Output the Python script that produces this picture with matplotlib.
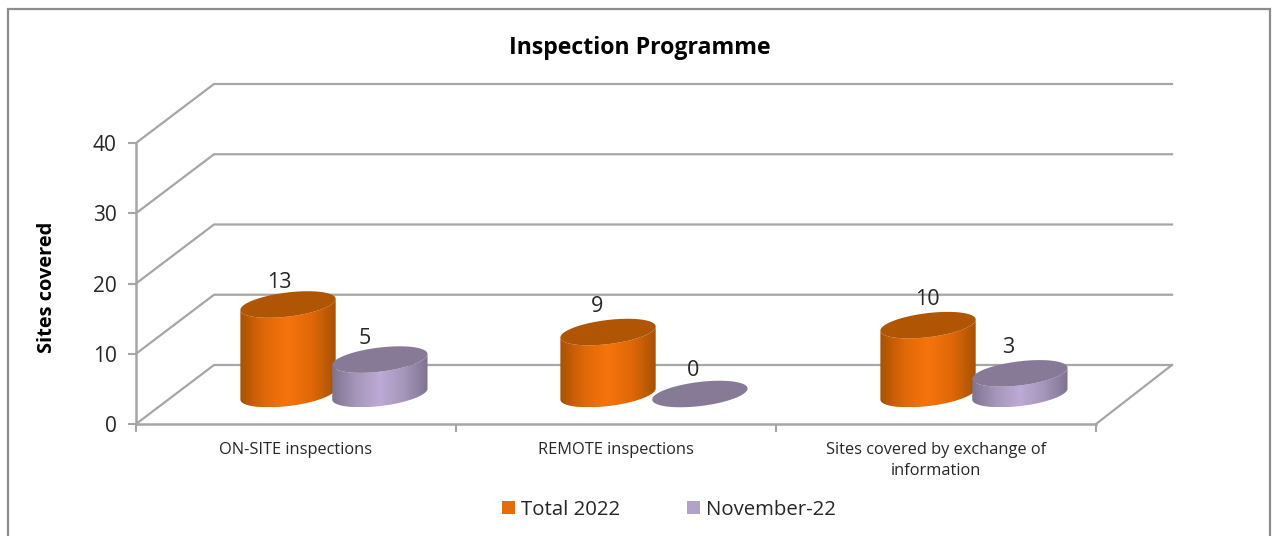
import numpy as np
import matplotlib
matplotlib.use("Agg")
from matplotlib import pyplot as plt
from matplotlib.colors import LinearSegmentedColormap
from matplotlib.patches import Patch, Polygon, Rectangle

categories = ["ON-SITE inspections", "REMOTE inspections", "Sites covered by exchange of\ninformation"]
total_2022 = [13, 9, 10]
november_22 = [5, 0, 3]
series_names = ["Total 2022", "November-22"]
yticks = [0, 10, 20, 30, 40]

plt.rcParams['font.family'] = ['Open Sans', 'DejaVu Sans']

W, H = 1274, 536
GRID = "#a6a6a6"
TEXT = "#262626"

fig = plt.figure(figsize=(W / 100, H / 100), dpi=100)
fig.patches.append(Rectangle((8 / W, -0.02), (1270 - 8) / W, 1.02 - 9 / H, transform=fig.transFigure,
                             fc="white", ec="#8c8c8c", lw=1.6, zorder=-1))

# front plane of the fake 3d box, pixels measured on the picture
ax = fig.add_axes([136 / W, 1 - 424 / H, 960 / W, 281 / H])
ax.set_xlim(0, 3)
ax.set_ylim(0, 40)
ax.patch.set_alpha(0)

# pixels -> data units
sx = 3 / 960
sy = 40 / 281
depth_x, depth_y = 78 * sx, 59 * sy

for s in ["top", "right"]:
    ax.spines[s].set_visible(False)
for s in ["left", "bottom"]:
    ax.spines[s].set_color(GRID)
    ax.spines[s].set_linewidth(1.8)

ax.set_yticks(yticks)
ax.tick_params(axis="y", length=6, width=1.5, color=GRID, labelsize=15, labelcolor=TEXT, pad=8)
ax.set_xticks([0.5, 1.5, 2.5])
ax.set_xticklabels(categories, fontsize=11.8, color=TEXT, linespacing=1.45)
ax.set_xticks([0, 1, 2, 3], minor=True)
ax.tick_params(axis="x", which="major", length=0, pad=13)
ax.tick_params(axis="x", which="minor", length=6, width=1.5, color=GRID)

# walls and floor
for v in yticks:
    ax.plot([0, depth_x, 3 + depth_x - 2 * sx], [v, v + depth_y, v + depth_y], color=GRID, lw=1.6,
            clip_on=False, zorder=1)
ax.plot([3, 3 + depth_x - 2 * sx], [0, depth_y], color=GRID, lw=1.6, clip_on=False, zorder=1)

orange = LinearSegmentedColormap.from_list("o", ["#a85203", "#df6808", "#f7740c", "#df6808", "#a85203"])
purple = LinearSegmentedColormap.from_list("p", ["#7f7391", "#a596ba", "#bdaad6", "#a596ba", "#7f7391"])
grad = np.linspace(0, 1, 256).reshape(1, -1)

tilt = np.deg2rad(7)


def ellipse_xy(cx, cy, t):
    # tilted ellipse worked out in pixels then taken back to data units
    a, b = 48, 12
    px = a * np.cos(t) * np.cos(tilt) + b * np.sin(t) * np.sin(tilt)
    py = a * np.cos(t) * np.sin(tilt) - b * np.sin(t) * np.cos(tilt)
    return cx + px * sx, cy + py * sy


def cylinder(cx, value, cmap, top_color, z):
    base = 30 * sy
    top = base + value * 0.98
    cx = cx + 41 * sx
    # t runs over the lower half of the bottom ellipse, then back along the top one
    t_low = np.linspace(0, np.pi, 80)
    t_up = np.linspace(np.pi, 0, 80)
    x1, y1 = ellipse_xy(cx, base, t_low)
    x2, y2 = ellipse_xy(cx, top, t_up)
    body = np.column_stack([np.r_[x1, x2], np.r_[y1, y2]])
    if value > 0:
        poly = Polygon(body, closed=True, fc="none", ec="none", transform=ax.transData)
        ax.add_patch(poly)
        im = ax.imshow(grad, cmap=cmap, aspect="auto", zorder=z, interpolation="bilinear",
                       extent=[body[:, 0].min(), body[:, 0].max(), body[:, 1].min(), body[:, 1].max()])
        im.set_clip_path(poly)
    tt = np.linspace(0, 2 * np.pi, 160)
    x3, y3 = ellipse_xy(cx, top, tt)
    ax.fill(x3, y3, color=top_color, lw=0, zorder=z + 0.1, clip_on=False)
    return cx, top


label_dx = [[-9, -11, -1], [-15, -7, -12]]
label_dy = [[22, 26, 26], [21, 24, 26]]
for i in range(3):
    cx, top = cylinder(i + 0.347, total_2022[i], orange, "#b05504", 3)
    ax.text(cx + label_dx[0][i] * sx, top + label_dy[0][i] * sy, str(total_2022[i]), fontsize=15.5, color=TEXT,
            ha="center", va="center", zorder=6, clip_on=False)
    cx, top = cylinder(i + 0.634, november_22[i], purple, "#877a96", 4)
    ax.text(cx + label_dx[1][i] * sx, top + label_dy[1][i] * sy, str(november_22[i]), fontsize=15.5, color=TEXT,
            ha="center", va="center", zorder=6, clip_on=False)

ax.set_xlim(0, 3)
ax.set_ylim(0, 40)

fig.text(640 / W, 1 - 48 / H, "Inspection Programme", fontsize=16.7, fontweight="bold", color="black",
         ha="center", va="center")
fig.text(47 / W, 1 - 287 / H, "Sites covered", fontsize=14.4, fontweight="bold", color="black",
         rotation=90, ha="center", va="center")

handles = [Patch(fc="#e46c0a", label=series_names[0]), Patch(fc="#b3a2c7", label=series_names[1])]
fig.legend(handles=handles, loc="center", bbox_to_anchor=(669 / W, 1 - 510 / H), ncol=2, frameon=False,
           fontsize=14.7, handlelength=0.62, handleheight=0.62, handletextpad=0.3, columnspacing=3.3,
           labelcolor=TEXT)

fig.savefig("out.png", dpi=100)
